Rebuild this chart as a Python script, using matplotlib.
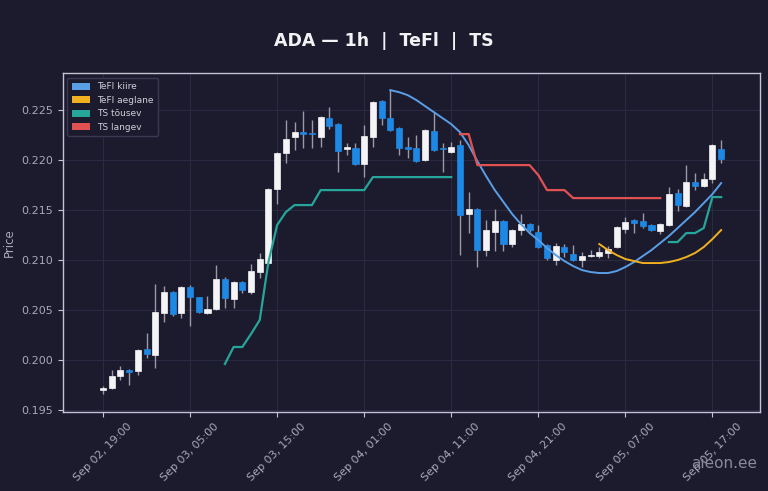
import numpy as np
import pandas as pd
import matplotlib
matplotlib.use("Agg")
import matplotlib.pyplot as plt
import matplotlib.dates as mdates
from matplotlib.patches import Patch

nan = np.nan

# hourly candles, Sep 02 19:00 -> Sep 05 18:00
times = pd.date_range("2025-09-02 19:00", periods=72, freq="h")

opens = [0.1970, 0.1972, 0.1984, 0.1990, 0.1989, 0.2011, 0.2005, 0.2047, 0.2068, 0.2047,
         0.2073, 0.2063, 0.2047, 0.2051, 0.2081, 0.2061, 0.2078, 0.2068, 0.2088, 0.2097,
         0.2171, 0.2207, 0.2223, 0.2228, 0.2227, 0.2223, 0.2242, 0.2236, 0.2211, 0.2212,
         0.2196, 0.2223, 0.2259, 0.2242, 0.2232, 0.2213, 0.2212, 0.2200, 0.2229, 0.2212,
         0.2208, 0.2215, 0.2146, 0.2151, 0.2110, 0.2128, 0.2139, 0.2116, 0.2130, 0.2136,
         0.2128, 0.2115, 0.2100, 0.2113, 0.2106, 0.2100, 0.2104, 0.2104, 0.2107, 0.2113,
         0.2131, 0.2140, 0.2139, 0.2135, 0.2129, 0.2135, 0.2167, 0.2154, 0.2178, 0.2174,
         0.2181, 0.2211]
highs = [0.1974, 0.1990, 0.1994, 0.1991, 0.2011, 0.2027, 0.2076, 0.2074, 0.2069, 0.2074,
         0.2075, 0.2063, 0.2064, 0.2095, 0.2083, 0.2079, 0.2079, 0.2096, 0.2107, 0.2172,
         0.2208, 0.2240, 0.2238, 0.2249, 0.2240, 0.2244, 0.2253, 0.2237, 0.2217, 0.2217,
         0.2235, 0.2259, 0.2260, 0.2271, 0.2233, 0.2223, 0.2225, 0.2231, 0.2248, 0.2217,
         0.2218, 0.2220, 0.2168, 0.2152, 0.2140, 0.2151, 0.2140, 0.2131, 0.2146, 0.2137,
         0.2135, 0.2116, 0.2117, 0.2116, 0.2115, 0.2108, 0.2110, 0.2113, 0.2114, 0.2134,
         0.2143, 0.2141, 0.2147, 0.2136, 0.2137, 0.2173, 0.2171, 0.2195, 0.2187, 0.2187,
         0.2216, 0.2220]
lows = [0.1966, 0.1971, 0.1980, 0.1975, 0.1985, 0.2002, 0.1992, 0.2038, 0.2044, 0.2042,
        0.2034, 0.2047, 0.2046, 0.2050, 0.2052, 0.2052, 0.2067, 0.2066, 0.2082, 0.2095,
        0.2156, 0.2197, 0.2210, 0.2212, 0.2212, 0.2213, 0.2231, 0.2188, 0.2205, 0.2195,
        0.2183, 0.2213, 0.2235, 0.2229, 0.2205, 0.2202, 0.2198, 0.2199, 0.2209, 0.2188,
        0.2207, 0.2105, 0.2127, 0.2093, 0.2104, 0.2109, 0.2109, 0.2113, 0.2125, 0.2128,
        0.2112, 0.2100, 0.2095, 0.2103, 0.2099, 0.2093, 0.2103, 0.2102, 0.2102, 0.2112,
        0.2127, 0.2127, 0.2132, 0.2129, 0.2126, 0.2134, 0.2149, 0.2153, 0.2170, 0.2173,
        0.2177, 0.2197]
closes = [0.1972, 0.1984, 0.1990, 0.1988, 0.2010, 0.2006, 0.2048, 0.2068, 0.2046, 0.2073,
          0.2063, 0.2048, 0.2051, 0.2081, 0.2062, 0.2078, 0.2070, 0.2089, 0.2101, 0.2171,
          0.2207, 0.2221, 0.2228, 0.2226, 0.2226, 0.2243, 0.2234, 0.2209, 0.2213, 0.2196,
          0.2224, 0.2258, 0.2242, 0.2230, 0.2212, 0.2211, 0.2199, 0.2230, 0.2210, 0.2211,
          0.2213, 0.2145, 0.2151, 0.2110, 0.2130, 0.2139, 0.2116, 0.2130, 0.2136, 0.2130,
          0.2113, 0.2102, 0.2114, 0.2108, 0.2100, 0.2104, 0.2105, 0.2108, 0.2111, 0.2133,
          0.2138, 0.2137, 0.2134, 0.2130, 0.2136, 0.2166, 0.2155, 0.2178, 0.2174, 0.2181,
          0.2215, 0.2201]

tefl_fast = [nan] * 33 + [
    0.2270, 0.2268, 0.2265, 0.2260, 0.2254, 0.2248, 0.2242, 0.2236, 0.2228, 0.2215,
    0.2199, 0.2184, 0.2170, 0.2158, 0.2146, 0.2136, 0.2127, 0.2120, 0.2112, 0.2105,
    0.2099, 0.2094, 0.2090, 0.2088, 0.2087, 0.2087, 0.2089, 0.2093, 0.2098, 0.2104,
    0.2110, 0.2117, 0.2124, 0.2132, 0.2140, 0.2148, 0.2157, 0.2166, 0.2177]
tefl_slow = [nan] * 57 + [
    0.2116, 0.2110, 0.2105, 0.2101, 0.2099, 0.2097, 0.2097, 0.2097, 0.2098, 0.2100,
    0.2103, 0.2107, 0.2113, 0.2121, 0.2130]
ts_up = [nan] * 14 + [
    0.1996, 0.2013, 0.2013, 0.2026, 0.2040, 0.2098, 0.2135, 0.2148, 0.2155, 0.2155,
    0.2155, 0.2170, 0.2170, 0.2170, 0.2170, 0.2170, 0.2170, 0.2183, 0.2183, 0.2183,
    0.2183, 0.2183, 0.2183, 0.2183, 0.2183, 0.2183, 0.2183] + [nan] * 24 + [
    0.2118, 0.2118, 0.2127, 0.2127, 0.2132, 0.2163, 0.2163]
ts_down = [nan] * 41 + [
    0.2226, 0.2226, 0.2195, 0.2195, 0.2195, 0.2195, 0.2195, 0.2195, 0.2195, 0.2185,
    0.2170, 0.2170, 0.2170, 0.2162, 0.2162, 0.2162, 0.2162, 0.2162, 0.2162, 0.2162,
    0.2162, 0.2162, 0.2162, 0.2162] + [nan] * 7

labels = ["TeFl kiire", "TeFl aeglane", "TS tõusev", "TS langev"]

BG = "#1c1b2e"
UP = "#f4f4f6"
DOWN = "#1e88e5"
WICK = "#9a9aa6"
C_FAST = "#5a9ee6"
C_SLOW = "#f0b020"
C_UP = "#26a69a"
C_DOWN = "#e05252"
TXT = "#a8a8b8"

fig = plt.figure(figsize=(7.68, 4.91), dpi=100, facecolor=BG)
ax = fig.add_axes([0.082, 0.161, 0.908, 0.690], facecolor=BG)

x = mdates.date2num(times)
o = np.array(opens); h = np.array(highs); l = np.array(lows); c = np.array(closes)
up = c >= o
colors = np.where(up, UP, DOWN)
width = 0.7 / 24

ax.vlines(x, l, h, color=WICK, linewidth=1.0, zorder=2)
ax.bar(x, np.abs(c - o), bottom=np.minimum(o, c), width=width,
       color=colors, edgecolor=colors, linewidth=0.5, zorder=3)

ax.plot(x, tefl_fast, color=C_FAST, linewidth=1.4, zorder=4)
ax.plot(x, tefl_slow, color=C_SLOW, linewidth=1.4, zorder=4)
ax.plot(x, ts_up, color=C_UP, linewidth=1.6, zorder=4)
ax.plot(x, ts_down, color=C_DOWN, linewidth=1.6, zorder=4)

ax.set_xlim(times[0] - pd.Timedelta(hours=4.6), times[0] + pd.Timedelta(hours=75.5))
ax.set_ylim(0.1948, 0.2287)
ax.set_xticks(x[::10])
ax.xaxis.set_major_formatter(mdates.DateFormatter("%b %d, %H:%M"))
ax.set_yticks(np.arange(0.195, 0.2251, 0.005))
ax.yaxis.set_major_formatter(matplotlib.ticker.FormatStrFormatter("%.3f"))
plt.setp(ax.get_xticklabels(), rotation=45)

ax.grid(True, color="#2c2b44", linewidth=0.7)
ax.set_axisbelow(True)
for s in ax.spines.values():
    s.set_color("#c4c2d4")
    s.set_linewidth(1.0)
ax.tick_params(colors="#c4c2d4", labelcolor=TXT, labelsize=8, length=3.5)
ax.set_ylabel("Price", color=TXT, fontsize=8.5)

handles = [Patch(facecolor=col, label=lab)
           for col, lab in zip([C_FAST, C_SLOW, C_UP, C_DOWN], labels)]
leg = ax.legend(handles=handles, loc="upper left", fontsize=6.5, facecolor=BG,
                edgecolor="#3a3950", labelcolor="#cfcfd8", framealpha=1.0,
                handlelength=2.0, handleheight=0.8, borderpad=0.5)

fig.suptitle("ADA — 1h  |  TeFl  |  TS", color="#f2f2f5", fontsize=12.5,
             fontweight="bold", y=0.935)
fig.text(0.986, 0.057, "aieon.ee", color="#8a8a9a", fontsize=11,
         ha="right", va="center")

fig.savefig("out.png", dpi=100, facecolor=BG)
